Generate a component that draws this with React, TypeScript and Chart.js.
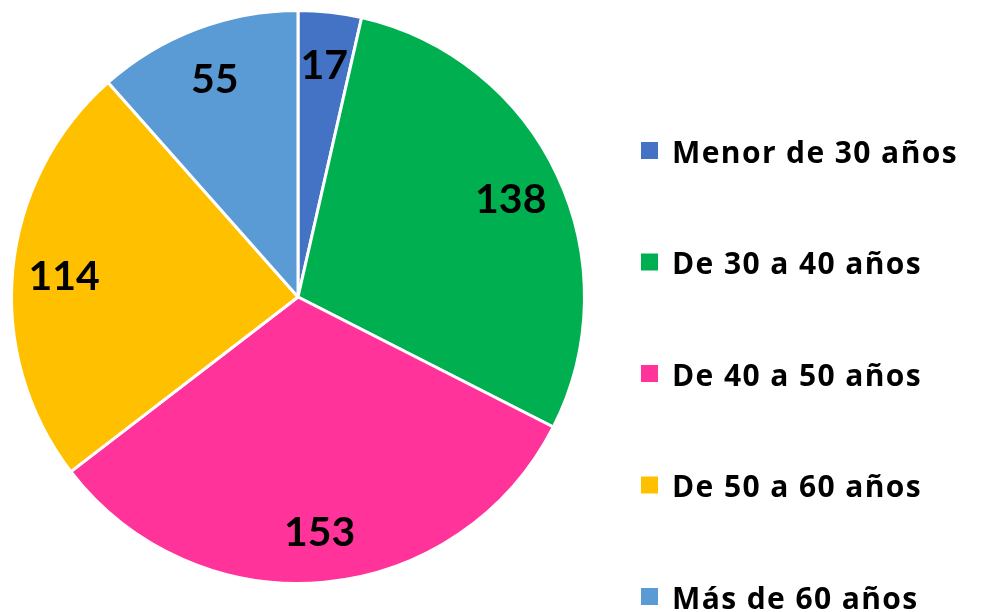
import React, { useEffect, useRef } from "react";
import { Chart, registerables } from "chart.js";

Chart.register(...registerables);

const categories = ["Menor de 30 años", "De 30 a 40 años", "De 40 a 50 años", "De 50 a 60 años", "Más de 60 años"];
const values = [17, 138, 153, 114, 55];
const colors = ["#4472C4", "#00B050", "#FF3399", "#FFC000", "#5B9BD5"];

const FONT = "Lato, 'Liberation Sans', Arial, sans-serif";
const LEGEND_FONT = "'Open Sans', Lato, Arial, sans-serif";

const labelPlugin = {
  id: "sliceLabels",
  afterDatasetsDraw(chart: any) {
    const ctx = chart.ctx;
    const meta = chart.getDatasetMeta(0);
    ctx.save();
    ctx.fillStyle = "#000";
    ctx.font = `bold 41px ${FONT}`;
    ctx.textAlign = "center";
    ctx.textBaseline = "middle";
    meta.data.forEach((arc: any, i: number) => {
      const { x, y, startAngle, endAngle, outerRadius } = arc.getProps(["x", "y", "startAngle", "endAngle", "outerRadius"], true);
      const mid = (startAngle + endAngle) / 2;
      const r = outerRadius * 0.82;
      ctx.fillText(String(chart.data.datasets[0].data[i]), x + Math.cos(mid) * r, y + Math.sin(mid) * r + 2);
    });
    ctx.restore();
  },
};

const legendPlugin = {
  id: "customLegend",
  afterDraw(chart: any) {
    const ctx = chart.ctx;
    const labels = chart.data.labels as string[];
    const bg = chart.data.datasets[0].backgroundColor as string[];
    ctx.save();
    ctx.font = `bold 30px ${LEGEND_FONT}`;
    try { (ctx as any).letterSpacing = "1.4px"; } catch (e) {}
    ctx.textAlign = "left";
    ctx.textBaseline = "middle";
    labels.forEach((lab, i) => {
      const cy = 151 + i * 111.5;
      ctx.fillStyle = bg[i];
      ctx.fillRect(641, cy - 9, 17, 17);
      ctx.fillStyle = "#000";
      ctx.fillText(lab, 672, cy + 3);
    });
    ctx.restore();
  },
};

export default function App() {
  const ref = useRef<HTMLCanvasElement>(null);
  useEffect(() => {
    if (!ref.current) return;
    const chart = new Chart(ref.current, {
      type: "pie",
      data: {
        labels: categories,
        datasets: [
          {
            data: values,
            backgroundColor: colors,
            borderColor: "#ffffff",
            borderWidth: 3,
          },
        ],
      },
      options: {
        responsive: false,
        animation: false,
        layout: { padding: { left: 10, top: 9, right: 405, bottom: 27 } },
        plugins: {
          legend: { display: false },
          tooltip: { enabled: false },
        },
      },
      plugins: [labelPlugin, legendPlugin],
    });
    return () => chart.destroy();
  }, []);
  return (
    <div style={{ position: "fixed", left: 0, top: 0, width: 991, height: 612, background: "#fff" }}>
      <canvas ref={ref} width={991} height={612} />
    </div>
  );
}
